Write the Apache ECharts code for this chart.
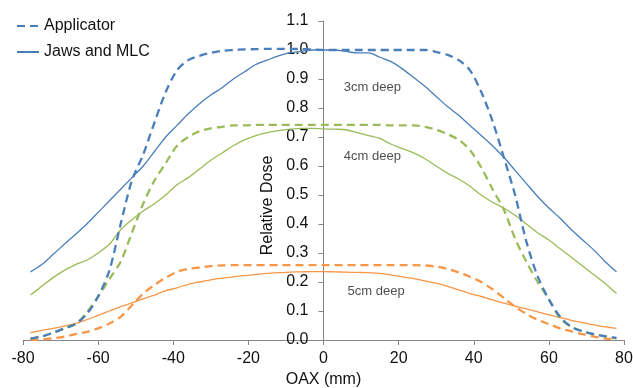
<!DOCTYPE html>
<html>
<head>
<meta charset="utf-8">
<script src="https://cdn.jsdelivr.net/npm/echarts@6/dist/echarts.min.js"></script>
<style>html,body{margin:0;padding:0;background:#fff;}#c{width:633px;height:388px;}</style>
</head>
<body>
<div id="c"></div>
<script>
const xValues = [-78,-75,-72,-69,-66,-63,-60,-57,-54,-51,-48,-45,-42,-39,-36,-33,-30,-27,-24,-21,-18,-15,-12,-9,-6,-3,0,3,6,9,12,15,18,21,24,27,30,33,36,39,42,45,48,51,54,57,60,63,66,69,72,75,78];

const applicator3cm = [0.005,0.012,0.025,0.04,0.055,0.09,0.15,0.24,0.40,0.55,0.64,0.75,0.855,0.93,0.965,0.98,0.99,0.997,1.0,1.002,1.003,1.004,1.004,1.004,1.003,1.002,
  1.0,
  1.0,1.0,1.0,1.0,1.0,1.0,1.0,1.0,1.0,0.993,0.983,0.965,0.93,0.855,0.755,0.63,0.50,0.34,0.22,0.14,0.08,0.045,0.03,0.02,0.013,0.007];

const jaws3cm = [0.235,0.26,0.295,0.33,0.365,0.40,0.44,0.48,0.52,0.56,0.60,0.65,0.70,0.74,0.78,0.815,0.845,0.87,0.90,0.925,0.95,0.965,0.98,0.99,0.995,1.0,
  1.0,
  1.0,0.995,0.99,0.99,0.975,0.96,0.935,0.905,0.875,0.84,0.805,0.775,0.74,0.705,0.67,0.63,0.585,0.54,0.495,0.455,0.42,0.38,0.345,0.31,0.27,0.235];

const applicator4cm = [0.005,0.012,0.025,0.04,0.055,0.095,0.15,0.21,0.27,0.37,0.47,0.55,0.61,0.67,0.70,0.72,0.73,0.735,0.74,0.74,0.742,0.742,0.742,0.742,0.742,0.742,
  0.742,
  0.742,0.742,0.742,0.742,0.742,0.74,0.74,0.74,0.735,0.725,0.71,0.69,0.655,0.595,0.52,0.45,0.35,0.27,0.20,0.14,0.075,0.045,0.03,0.02,0.012,0.006];

const jaws4cm = [0.155,0.185,0.215,0.24,0.26,0.275,0.30,0.33,0.38,0.415,0.445,0.47,0.50,0.535,0.56,0.59,0.62,0.645,0.67,0.69,0.705,0.715,0.722,0.727,0.73,0.73,
  0.728,
  0.727,0.725,0.715,0.705,0.695,0.675,0.66,0.645,0.625,0.60,0.575,0.555,0.53,0.50,0.475,0.455,0.43,0.40,0.37,0.345,0.315,0.285,0.255,0.225,0.195,0.16];

const applicator5cm = [0.0,0.002,0.006,0.012,0.02,0.028,0.04,0.057,0.08,0.12,0.16,0.19,0.215,0.235,0.245,0.25,0.255,0.257,0.258,0.258,0.258,0.258,0.258,0.258,0.258,0.258,
  0.258,
  0.258,0.258,0.258,0.258,0.258,0.258,0.258,0.258,0.257,0.253,0.245,0.233,0.218,0.2,0.175,0.145,0.115,0.09,0.07,0.055,0.04,0.03,0.02,0.012,0.005,0.002];

const jaws5cm = [0.025,0.033,0.04,0.048,0.057,0.07,0.085,0.1,0.115,0.128,0.142,0.155,0.17,0.18,0.192,0.2,0.207,0.213,0.218,0.222,0.226,0.23,0.232,0.234,0.235,0.236,
  0.236,
  0.235,0.234,0.233,0.232,0.23,0.224,0.218,0.212,0.204,0.196,0.185,0.173,0.16,0.15,0.138,0.127,0.117,0.107,0.097,0.087,0.077,0.068,0.06,0.052,0.045,0.04];

const annotationText = ['3cm deep','4cm deep','5cm deep'];
const annotationX = [13, 13, 14];
const annotationY = [0.872, 0.634, 0.168];

const legendNames = ['Applicator','Jaws and MLC'];

const BLUE = '#4a7ebb', GREEN = '#9bbb59', ORANGE = '#f79646';
const FONT = 'Liberation Sans, Arial, sans-serif';

const GRID = {left:23, right:9, top:21, bottom:48};
const CHART_W = 633;
const xMin = -80, xMax = 80;
// shift y axis so that it sits at x = 0
const yAxisOffset = -((CHART_W - GRID.left - GRID.right) * (0 - xMin) / (xMax - xMin));

function pairs(ys){ return xValues.map((x,i)=>[x, ys[i]]); }
function dashed(name, ys, color){
  return {type:'line', name, data:pairs(ys), smooth:0.3, symbol:'none', showSymbol:false,
    lineStyle:{color, width:2.3, type:[8,5]}, itemStyle:{color}, z:3};
}
function solid(name, ys, color){
  return {type:'line', name, data:pairs(ys), smooth:0.3, symbol:'none', showSymbol:false,
    lineStyle:{color, width:1.3, type:'solid'}, itemStyle:{color}, z:2};
}

const chart = echarts.init(document.getElementById('c'), null, {renderer:'canvas'});
chart.setOption({
  animation:false,
  backgroundColor:'#fff',
  textStyle:{fontFamily:FONT},
  grid:Object.assign({containLabel:false, outerBoundsMode:'none'}, GRID),
  legend:{
    data:legendNames, orient:'vertical', left:16, top:18, padding:0, itemWidth:22, itemHeight:14, itemGap:10,
    itemStyle:{color:'rgba(0,0,0,0)', borderColor:'rgba(0,0,0,0)', borderWidth:0},
    textStyle:{fontSize:16, color:'#111', fontFamily:FONT}, selectedMode:false
  },
  xAxis:{
    type:'value', min:xMin, max:xMax, interval:20,
    name:'OAX (mm)', nameLocation:'middle', nameGap:32,
    nameTextStyle:{fontSize:16, color:'#111', fontFamily:FONT},
    axisLine:{show:true, onZero:false, lineStyle:{color:'#868686', width:1}},
    axisTick:{show:true, inside:false, length:5, lineStyle:{color:'#868686'}},
    axisLabel:{fontSize:16, color:'#111', margin:11, fontFamily:FONT},
    splitLine:{show:false}
  },
  yAxis:{
    type:'value', min:0, max:1.1, interval:0.1, offset:yAxisOffset,
    name:'Relative Dose', nameLocation:'middle', nameGap:46,
    nameTextStyle:{fontSize:16, color:'#111', fontFamily:FONT, padding:[0,50,0,0]},
    axisLine:{show:true, onZero:false, lineStyle:{color:'#868686', width:1}},
    axisTick:{show:true, inside:false, length:5, lineStyle:{color:'#868686'}},
    axisLabel:{fontSize:16, color:'#111', margin:15, fontFamily:FONT, formatter:v=>v.toFixed(1)},
    splitLine:{show:false}
  },
  series:[
    solid('Jaws and MLC 5cm', jaws5cm, ORANGE),
    solid('Jaws and MLC 4cm', jaws4cm, GREEN),
    solid('Jaws and MLC', jaws3cm, BLUE),
    dashed('Applicator 5cm', applicator5cm, ORANGE),
    dashed('Applicator 4cm', applicator4cm, GREEN),
    dashed('Applicator', applicator3cm, BLUE),
    {type:'scatter', name:'labels', symbolSize:0, silent:true, z:5,
      data:annotationText.map((t,i)=>({value:[annotationX[i], annotationY[i]], name:t})),
      label:{show:true, position:'inside', formatter:p=>p.name, fontSize:13, color:'#222', fontFamily:FONT}
    }
  ]
});
</script>
</body>
</html>
